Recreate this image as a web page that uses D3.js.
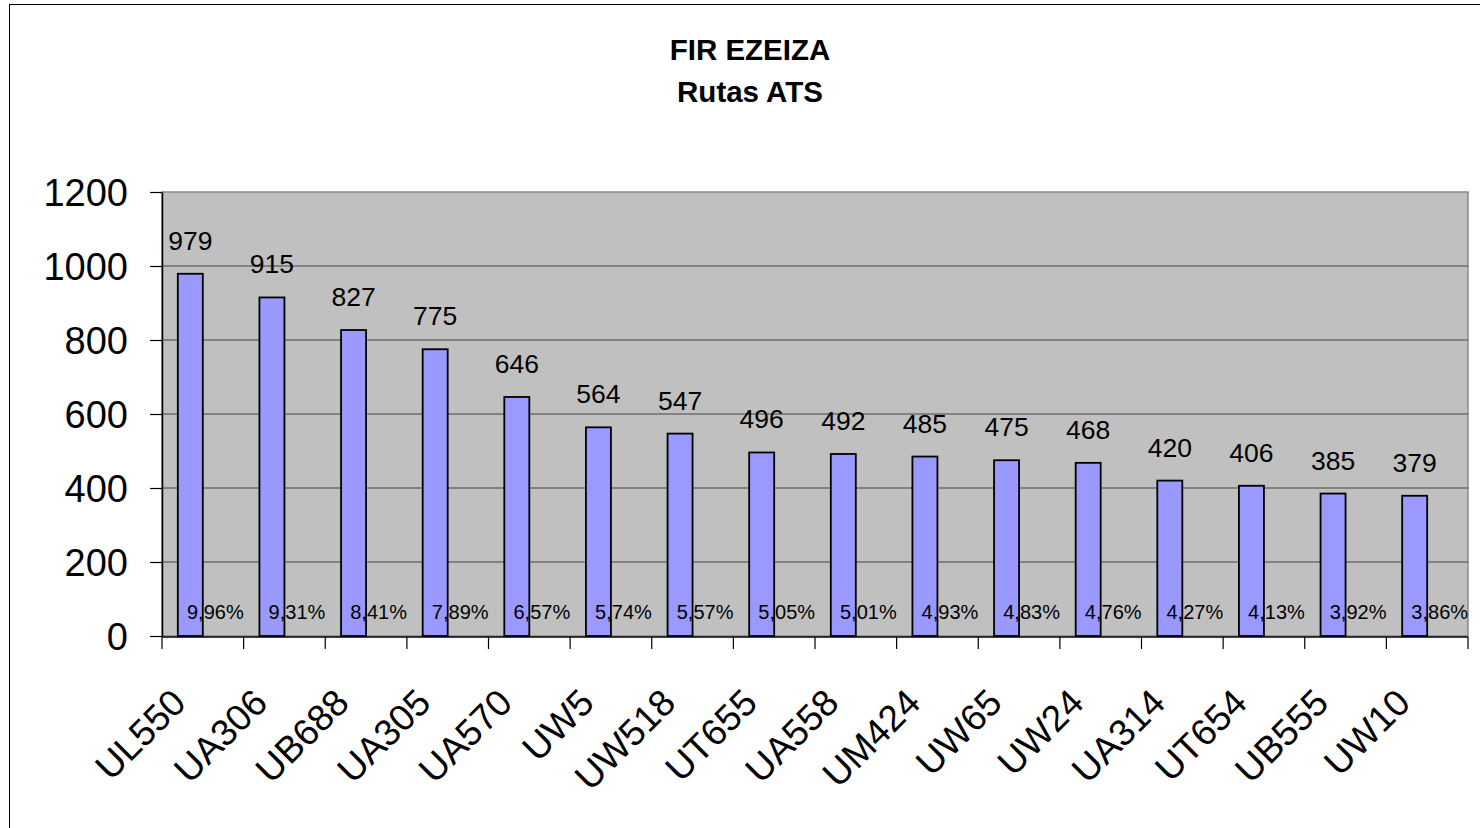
<!DOCTYPE html>
<html>
<head>
<meta charset="utf-8">
<script src="https://cdn.jsdelivr.net/npm/d3@7"></script>
<style>
  body { margin: 0; background: #fff; }
  svg { display: block; font-family: "Liberation Sans", Arial, sans-serif; }
</style>
</head>
<body>
<svg width="1480" height="828"></svg>
<script>
// rutas y cantidades
const routes = ['UL550', 'UA306', 'UB688', 'UA305', 'UA570', 'UW5', 'UW518', 'UT655',
  'UA558', 'UM424', 'UW65', 'UW24', 'UA314', 'UT654', 'UB555', 'UW10']
const counts = [979, 915, 827, 775, 646, 564, 547, 496, 492, 485, 475, 468, 420, 406, 385, 379]
const percents = ['9,96%', '9,31%', '8,41%', '7,89%', '6,57%', '5,74%', '5,57%', '5,05%',
  '5,01%', '4,93%', '4,83%', '4,76%', '4,27%', '4,13%', '3,92%', '3,86%']
const yTicks = [0, 200, 400, 600, 800, 1000, 1200]

const data = routes.map((r, i) => ({ route: r, count: counts[i], pct: percents[i] }))

const svg = d3.select('svg')
const plot = { left: 162, right: 1468, top: 192, bottom: 636 }

// marco del grafico (cortado a la derecha y abajo)
svg.append('rect')
  .attr('x', 9.5).attr('y', 4.5)
  .attr('width', 1500).attr('height', 900)
  .attr('fill', 'none').attr('stroke', '#000').attr('stroke-width', 1)

// titulo
const title = svg.append('text')
  .attr('text-anchor', 'middle')
  .attr('font-weight', 'bold')
  .attr('font-size', 29.5)
title.append('tspan').attr('x', 750).attr('y', 60).text('FIR EZEIZA')
title.append('tspan').attr('x', 750).attr('y', 102).text('Rutas ATS')

const x = d3.scaleBand().domain(routes).range([plot.left, plot.right])
const x1 = d3.scaleBand().domain(['count', 'pct']).range([0, x.bandwidth()]).paddingOuter(0.632)
const y = d3.scaleLinear().domain([0, 1200]).range([plot.bottom, plot.top])

// fondo gris
svg.append('rect')
  .attr('x', plot.left).attr('y', plot.top)
  .attr('width', plot.right - plot.left).attr('height', plot.bottom - plot.top)
  .attr('fill', '#c0c0c0').attr('stroke', '#888').attr('stroke-width', 1.5)

// lineas de grilla
svg.append('g')
  .selectAll('line')
  .data(yTicks.filter(d => d > 0 && d < 1200))
  .enter()
  .append('line')
    .attr('x1', plot.left).attr('x2', plot.right)
    .attr('y1', d => y(d)).attr('y2', d => y(d))
    .attr('stroke', '#444').attr('stroke-width', 1.2)

// barras (relleno)
svg.append('g')
  .selectAll('rect')
  .data(data)
  .enter()
  .append('rect')
    .attr('x', d => x(d.route) + x1('count'))
    .attr('y', d => y(d.count))
    .attr('width', x1.bandwidth())
    .attr('height', d => y(0) - y(d.count))
    .attr('fill', '#9999ff')

// etiquetas de porcentaje
svg.append('g')
  .selectAll('text')
  .data(data)
  .enter()
  .append('text')
    .attr('x', d => x(d.route) + x1('pct') + x1.bandwidth() / 2)
    .attr('y', 619)
    .attr('text-anchor', 'middle')
    .attr('font-size', 20)
    .text(d => d.pct)

// borde de barras encima del texto
svg.append('g')
  .selectAll('rect')
  .data(data)
  .enter()
  .append('rect')
    .attr('x', d => x(d.route) + x1('count'))
    .attr('y', d => y(d.count))
    .attr('width', x1.bandwidth())
    .attr('height', d => y(0) - y(d.count))
    .attr('fill', 'none')
    .attr('stroke', '#000').attr('stroke-width', 1.8)

// valores arriba de las barras
svg.append('g')
  .selectAll('text')
  .data(data)
  .enter()
  .append('text')
    .attr('x', d => x(d.route) + x1('count') + x1.bandwidth() / 2)
    .attr('y', d => y(d.count) - 24)
    .attr('text-anchor', 'middle')
    .attr('font-size', 26.5)
    .text(d => d.count)

// eje y
const yAxis = svg.append('g')
  .attr('transform', `translate(${plot.left},0)`)
  .call(d3.axisLeft(y).tickValues(yTicks).tickFormat(d3.format('d'))
    .tickSize(12).tickPadding(22).tickSizeOuter(0))
yAxis.select('.domain').attr('stroke', '#000').attr('stroke-width', 1.5)
yAxis.selectAll('.tick line').attr('stroke', '#000').attr('stroke-width', 1.2)
yAxis.selectAll('.tick text')
  .attr('font-size', 38)
  .attr('font-family', '"Liberation Sans", Arial, sans-serif')
  .attr('fill', '#000')
  .attr('dy', '0.36em')

// eje x
svg.append('line')
  .attr('x1', plot.left).attr('x2', plot.right)
  .attr('y1', plot.bottom + 1).attr('y2', plot.bottom + 1)
  .attr('stroke', '#000').attr('stroke-width', 1.5)

svg.append('g')
  .selectAll('line')
  .data(routes.concat(['end']))
  .enter()
  .append('line')
    .attr('x1', (d, i) => plot.left + i * x.step())
    .attr('x2', (d, i) => plot.left + i * x.step())
    .attr('y1', plot.bottom + 1).attr('y2', plot.bottom + 13)
    .attr('stroke', '#000').attr('stroke-width', 1.2)

svg.append('g')
  .selectAll('text')
  .data(routes)
  .enter()
  .append('text')
    .attr('transform', d => `translate(${x(d) + x.bandwidth() / 2 - 15},705) rotate(-45)`)
    .attr('text-anchor', 'end')
    .attr('font-size', 37)
    .text(d => d)
</script>
</body>
</html>
